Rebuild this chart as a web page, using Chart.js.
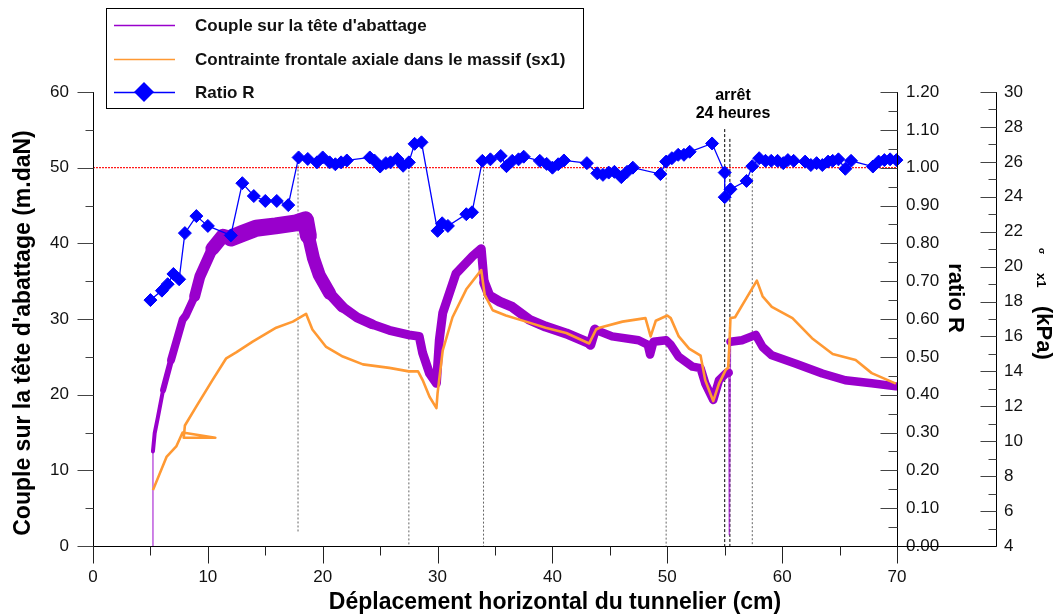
<!DOCTYPE html>
<html>
<head>
<meta charset="utf-8">
<script src="https://cdn.jsdelivr.net/npm/chart.js@4.4.1/dist/chart.umd.min.js"></script>
<style>
  html, body { margin: 0; padding: 0; background: #fff; }
  #wrap { width: 1057px; height: 615px; position: relative; }
</style>
</head>
<body>
<div id="wrap"><canvas id="chart" width="1057" height="615"></canvas></div>
<script>
// --- data ---
// Couple sur la tete d'abattage (m.daN), left axis
const torqueX = [5.22, 5.22, 5.37, 5.66, 6.1, 6.8, 7.8, 8.1, 8.85, 9.3, 10.4, 11.3, 12.0, 13.0, 14.2, 15.9, 17.7, 18.5,
  18.75, 19.2, 19.7, 20.6, 21.7, 23.0, 24.3, 25.8, 27.5, 28.4, 28.7, 29.3, 29.9, 30.15, 30.45, 31.6, 33.05, 33.8,
  34.06, 34.5, 35.4, 36.5, 38.0, 39.4, 41.2, 43.2, 43.3, 43.7, 45.2, 47.5, 48.3, 48.5, 48.8, 49.9, 50.3, 51.0, 52.2,
  52.9, 53.3, 54.0, 54.5, 55.1, 55.35, 55.4, 55.5, 56.5, 57.7, 58.3, 59.1, 61.2, 63.5, 65.5, 67.8, 69.9];
const torqueY = [0, 12.5, 14.9, 17.1, 20.6, 24.6, 29.9, 30.5, 33.0, 35.6, 39.3, 41.0, 40.7, 41.3, 42.0, 42.3, 42.7, 43.1,
  41.0, 38.0, 35.8, 33.4, 31.6, 30.2, 29.3, 28.5, 27.9, 27.7, 25.5, 22.8, 21.5, 27.2, 30.8, 36.0, 38.3, 39.3,
  34.8, 33.1, 32.3, 31.6, 29.9, 29.0, 28.1, 26.8, 26.6, 28.6, 27.7, 27.2, 26.6, 25.3, 27.0, 27.2, 26.6, 25.0, 23.7,
  23.5, 21.5, 19.3, 21.9, 22.8, 22.9, 1.5, 27.0, 27.2, 27.9, 26.3, 25.2, 24.1, 22.8, 21.9, 21.5, 21.1];

// Contrainte frontale axiale sx1 (kPa), far right axis
const stressX = [5.22, 6.4, 7.25, 7.8, 10.65, 7.9, 8.0, 9.0, 10.4, 11.6, 12.5, 13.9, 15.95, 17.4, 18.55, 19.1, 20.3,
  21.75, 23.5, 25.8, 27.5, 28.3, 28.7, 29.3, 29.9, 30.0, 30.45, 31.3, 32.5, 33.8, 34.1, 34.8, 35.95, 37.7, 39.4,
  41.2, 43.2, 43.8, 44.1, 46.1, 48.1, 48.55, 49.0, 50.0, 50.3, 51.0, 51.9, 52.9, 53.3, 54.0, 54.5, 55.1, 55.3,
  55.4, 55.5, 55.9, 56.8, 57.8, 58.3, 59.1, 60.9, 62.6, 64.4, 66.4, 67.8, 69.9];
const stressY = [7.2, 9.1, 9.7, 10.5, 10.2, 10.2, 10.9, 12.0, 13.5, 14.75, 15.1, 15.7, 16.5, 16.85, 17.3, 16.4, 15.4,
  14.85, 14.4, 14.2, 14.0, 14.0, 13.5, 12.55, 11.9, 12.75, 15.2, 17.1, 18.7, 19.8, 18.4, 17.5, 17.2, 16.85, 16.5,
  16.2, 15.6, 16.4, 16.5, 16.85, 17.05, 16.0, 16.9, 17.2, 17.05, 16.0, 15.3, 14.9, 13.5, 12.3, 13.3, 14.1, 14.2,
  15.4, 17.05, 17.1, 18.1, 19.2, 18.3, 17.7, 17.05, 15.9, 15.0, 14.65, 13.9, 13.3];

// Ratio R, ratio axis
const ratioX = [5.0, 6.0, 6.5, 7.0, 7.5, 8.0, 9.0, 10.0, 12.0, 13.0, 14.0, 15.0, 16.0, 17.0, 17.9, 18.7, 19.5, 20.0,
  20.6, 21.1, 21.6, 22.1, 24.1, 24.5, 25.0, 25.5, 25.9, 26.5, 27.0, 27.5, 28.0, 28.6, 30.0, 30.4, 30.9, 32.5, 33.0,
  33.9, 34.6, 35.5, 36.0, 36.5, 37.05, 37.5, 38.9, 39.5, 40.0, 40.5, 41.0, 43.0, 43.9, 44.4, 44.9, 45.4, 46.0, 46.5,
  47.0, 49.4, 49.9, 50.4, 50.95, 51.45, 51.95, 53.9, 55.0, 55.0, 55.5, 56.9, 57.4, 58.0, 58.55, 59.05, 59.6, 60.1,
  60.5, 61.0, 62.0, 62.5, 63.0, 63.5, 64.0, 64.4, 64.9, 65.5, 66.0, 67.9, 68.4, 68.9, 69.4, 69.95];
const ratioR = [0.650, 0.675, 0.692, 0.719, 0.705, 0.827, 0.872, 0.846, 0.821, 0.959, 0.925, 0.912, 0.912, 0.901, 1.027,
  1.023, 1.014, 1.027, 1.014, 1.009, 1.014, 1.019, 1.027, 1.019, 1.003, 1.012, 1.014, 1.023, 1.005, 1.014, 1.063,
  1.067, 0.833, 0.853, 0.846, 0.877, 0.882, 1.018, 1.022, 1.031, 1.004, 1.018, 1.022, 1.029, 1.018, 1.010, 1.000,
  1.009, 1.019, 1.012, 0.985, 0.981, 0.987, 0.989, 0.975, 0.989, 1.000, 0.983, 1.016, 1.025, 1.034, 1.034, 1.042,
  1.064, 0.987, 0.922, 0.943, 0.965, 1.004, 1.025, 1.018, 1.018, 1.018, 1.012, 1.020, 1.018, 1.016, 1.007, 1.012,
  1.007, 1.016, 1.018, 1.022, 0.997, 1.018, 1.003, 1.016, 1.020, 1.022, 1.020];

// dotted guides (x, top and bottom in ratio units)
const guideX = [17.85, 27.5, 34.0, 49.9, 57.4];
const guideTop = [1.027, 1.014, 1.016, 1.016, 1.004];
const guideBottom = [0.034, 0, 0, 0, 0];
// the 24 h stop
const stopX = [55.0, 55.45];
const stopTop = [1.102, 1.076];
const refRatio = 1.0;

const xTicks = { min: 0, max: 70, step: 10 };
const torqueTicks = { min: 0, max: 60, step: 10 };
const ratioTicks = { min: 0, max: 1.2, step: 0.1 };
const stressTicks = { min: 4, max: 30, step: 2 };

const FONT = '"Liberation Sans", Arial, sans-serif';
const PURPLE = '#9900cc';
const ORANGE = '#ff9933';
const BLUE = '#0000ff';

const pts = (xs, ys) => xs.map((x, i) => ({ x: x, y: ys[i] }));

// the torque trace is a noisy band: thicker where the scatter is wide
const bandWidth = c => {
  const x0 = c.p0.parsed.x, x1 = c.p1.parsed.x;
  if (Math.abs(x1 - x0) < 0.11) return 1.5;
  const m = (x0 + x1) / 2;
  if (m < 6) return 4;
  if (m < 7) return 6;
  if (m < 8.5) return 8;
  if (m < 10.5) return 11;
  if (m < 12) return 14;
  if (m < 18.7) return 17;
  if (m < 20.5) return 13;
  if (m < 22) return 11;
  if (m < 25) return 10;
  if (m < 34.1) return 9;
  if (m < 44) return 10;
  return 8.5;
};

const datasets = [
  {
    label: 'Ratio R', yAxisID: 'yR', data: pts(ratioX, ratioR),
    borderColor: BLUE, backgroundColor: BLUE, borderWidth: 1.3,
    pointStyle: 'rectRot', pointRadius: 6.5, pointBorderWidth: 1, clip: false
  },
  {
    label: 'Contrainte frontale axiale dans le massif (sx1)', yAxisID: 'yK', data: pts(stressX, stressY),
    borderColor: ORANGE, borderWidth: 2.6, pointRadius: 0, borderJoinStyle: 'round'
  },
  {
    label: "Couple sur la tête d'abattage", yAxisID: 'y', data: pts(torqueX, torqueY),
    borderColor: PURPLE, borderWidth: 9, pointRadius: 0, borderJoinStyle: 'round', borderCapStyle: 'round',
    segment: {
      borderWidth: bandWidth,
      borderColor: c => Math.abs(c.p1.parsed.x - c.p0.parsed.x) < 0.11 ? 'rgba(153,0,204,0.65)' : PURPLE
    }
  },
  {
    label: 'ref', yAxisID: 'yR', data: [{ x: xTicks.min, y: refRatio }, { x: xTicks.max, y: refRatio }],
    borderColor: '#ff1a1a', borderWidth: 1.4, borderDash: [2, 1], pointRadius: 0
  }
];
guideX.forEach((gx, i) => datasets.push({
  label: 'guide', yAxisID: 'yR', data: [{ x: gx, y: guideTop[i] }, { x: gx, y: guideBottom[i] }],
  borderColor: '#666', borderWidth: 1, borderDash: [2, 2], pointRadius: 0
}));
stopX.forEach((sx, i) => datasets.push({
  label: 'stop', yAxisID: 'yR', data: [{ x: sx, y: stopTop[i] }, { x: sx, y: 0 }],
  borderColor: '#000', borderWidth: 1, borderDash: [3, 2], pointRadius: 0
}));

const hideGrid = { display: false, drawTicks: false };
const tickFont = { family: FONT, size: 17 };

// axis lines, ticks, titles, legend and notes
const decor = {
  id: 'decor',
  afterDraw(chart) {
    const { ctx, chartArea: a, scales } = chart;
    const sx = scales.x, sy = scales.y, sr = scales.yR, sk = scales.yK;
    const L = (x1, y1, x2, y2, c, w) => {
      ctx.beginPath(); ctx.strokeStyle = c || '#000'; ctx.lineWidth = w || 1;
      ctx.moveTo(x1, y1); ctx.lineTo(x2, y2); ctx.stroke();
    };
    const r = v => Math.round(v) + 0.5;
    ctx.save();
    const bottom = r(a.bottom), left = r(a.left), right = r(a.right), kx = r(sk.left);

    // left axis
    L(left, sy.getPixelForValue(torqueTicks.max), left, bottom);
    for (let v = torqueTicks.min; v <= torqueTicks.max; v += 5) {
      const py = r(sy.getPixelForValue(v));
      L(left - (v % 10 === 0 ? 16 : 8), py, left, py, '#444');
    }
    // ratio axis
    L(right, sr.getPixelForValue(ratioTicks.max), right, bottom + 14);
    for (let k = 0; k <= 24; k++) {
      const py = r(sr.getPixelForValue(k * 0.05));
      L(right - (k % 2 === 0 ? 17 : 9), py, right, py, '#444');
    }
    // kPa axis
    L(kx, sk.getPixelForValue(stressTicks.max), kx, bottom);
    for (let v = stressTicks.min; v <= stressTicks.max; v += 1) {
      const py = r(sk.getPixelForValue(v));
      L(kx - (v % 2 === 0 ? 16 : 8), py, kx, py, '#444');
    }
    // x axis
    L(left, bottom, kx, bottom);
    for (let v = xTicks.min; v <= xTicks.max; v += 5) {
      const px = r(sx.getPixelForValue(v));
      L(px, bottom, px, bottom + (v % 10 === 0 ? 17 : 9), '#222');
    }

    ctx.fillStyle = '#000';
    // x title
    ctx.font = 'bold 23px ' + FONT;
    ctx.textAlign = 'center'; ctx.textBaseline = 'alphabetic';
    ctx.fillText('Déplacement horizontal du tunnelier (cm)', 555, 609);
    // left title
    ctx.save();
    ctx.translate(24, 333); ctx.rotate(-Math.PI / 2);
    ctx.textBaseline = 'middle';
    ctx.fillText("Couple sur la tête d'abattage (m.daN)", 0, 0);
    ctx.restore();
    // ratio title
    ctx.save();
    ctx.translate(955, 298); ctx.rotate(Math.PI / 2);
    ctx.font = 'bold 22px ' + FONT; ctx.textBaseline = 'middle';
    ctx.fillText('ratio R', 0, 0);
    ctx.restore();
    // kPa title
    ctx.save();
    ctx.translate(1043, 0); ctx.rotate(Math.PI / 2);
    ctx.textAlign = 'left'; ctx.textBaseline = 'middle';
    ctx.font = 'bold 9px ' + FONT; ctx.fillText('σ', 248, 2);
    ctx.font = 'bold 13px ' + FONT; ctx.fillText('x1', 273, 2);
    ctx.font = 'bold 22px ' + FONT; ctx.fillText('(kPa)', 306, 0);
    ctx.restore();

    // stop note
    ctx.font = 'bold 16px ' + FONT; ctx.textAlign = 'center';
    ctx.fillText('arrêt', 733, 100);
    ctx.fillText('24 heures', 733, 118);

    // legend
    ctx.fillStyle = '#fff';
    ctx.fillRect(106, 8, 477, 100);
    ctx.strokeStyle = '#000'; ctx.lineWidth = 1;
    ctx.strokeRect(106.5, 8.5, 477, 100);
    const rows = [
      { y: 25, c: PURPLE, t: "Couple sur la tête d'abattage" },
      { y: 59, c: ORANGE, t: 'Contrainte frontale axiale dans le massif (sx1)' },
      { y: 92, c: BLUE, t: 'Ratio R', marker: true }
    ];
    rows.forEach(row => {
      L(114, row.y + 0.5, 175, row.y + 0.5, row.c, 1.3);
      if (row.marker) {
        ctx.beginPath(); ctx.fillStyle = BLUE;
        ctx.moveTo(144, row.y - 10); ctx.lineTo(154, row.y); ctx.lineTo(144, row.y + 10); ctx.lineTo(134, row.y);
        ctx.closePath(); ctx.fill();
      }
      ctx.fillStyle = '#111';
      ctx.font = 'bold 17px ' + FONT; ctx.textAlign = 'left'; ctx.textBaseline = 'middle';
      ctx.fillText(row.t, 195, row.y + 1);
    });
    ctx.restore();
  }
};

new Chart(document.getElementById('chart'), {
  type: 'line',
  data: { datasets: datasets },
  plugins: [decor],
  options: {
    responsive: false,
    animation: false,
    devicePixelRatio: 1,
    layout: { padding: { top: 92, left: 0, right: 0, bottom: 0 } },
    plugins: { legend: { display: false }, tooltip: { enabled: false } },
    elements: { line: { tension: 0, fill: false } },
    scales: {
      x: {
        type: 'linear', position: 'bottom', min: xTicks.min, max: xTicks.max,
        ticks: { stepSize: xTicks.step, padding: 21, color: '#111', font: tickFont, maxRotation: 0 },
        grid: hideGrid, border: { display: false },
        afterFit: s => { s.height = 69; }
      },
      y: {
        position: 'left', min: torqueTicks.min, max: torqueTicks.max,
        ticks: { stepSize: torqueTicks.step, padding: 24, color: '#111', font: tickFont },
        grid: hideGrid, border: { display: false },
        afterFit: s => { s.width = 93; }
      },
      yR: {
        position: 'right', weight: 0, min: ratioTicks.min, max: ratioTicks.max,
        ticks: { stepSize: ratioTicks.step, padding: 9, color: '#111', font: tickFont, callback: v => Number(v).toFixed(2) },
        grid: hideGrid, border: { display: false },
        afterFit: s => { s.width = 99; }
      },
      yK: {
        position: 'right', weight: 1, min: stressTicks.min, max: stressTicks.max,
        ticks: { stepSize: stressTicks.step, padding: 8, color: '#111', font: tickFont },
        grid: hideGrid, border: { display: false },
        afterFit: s => { s.width = 61; }
      }
    }
  }
});
</script>
</body>
</html>
